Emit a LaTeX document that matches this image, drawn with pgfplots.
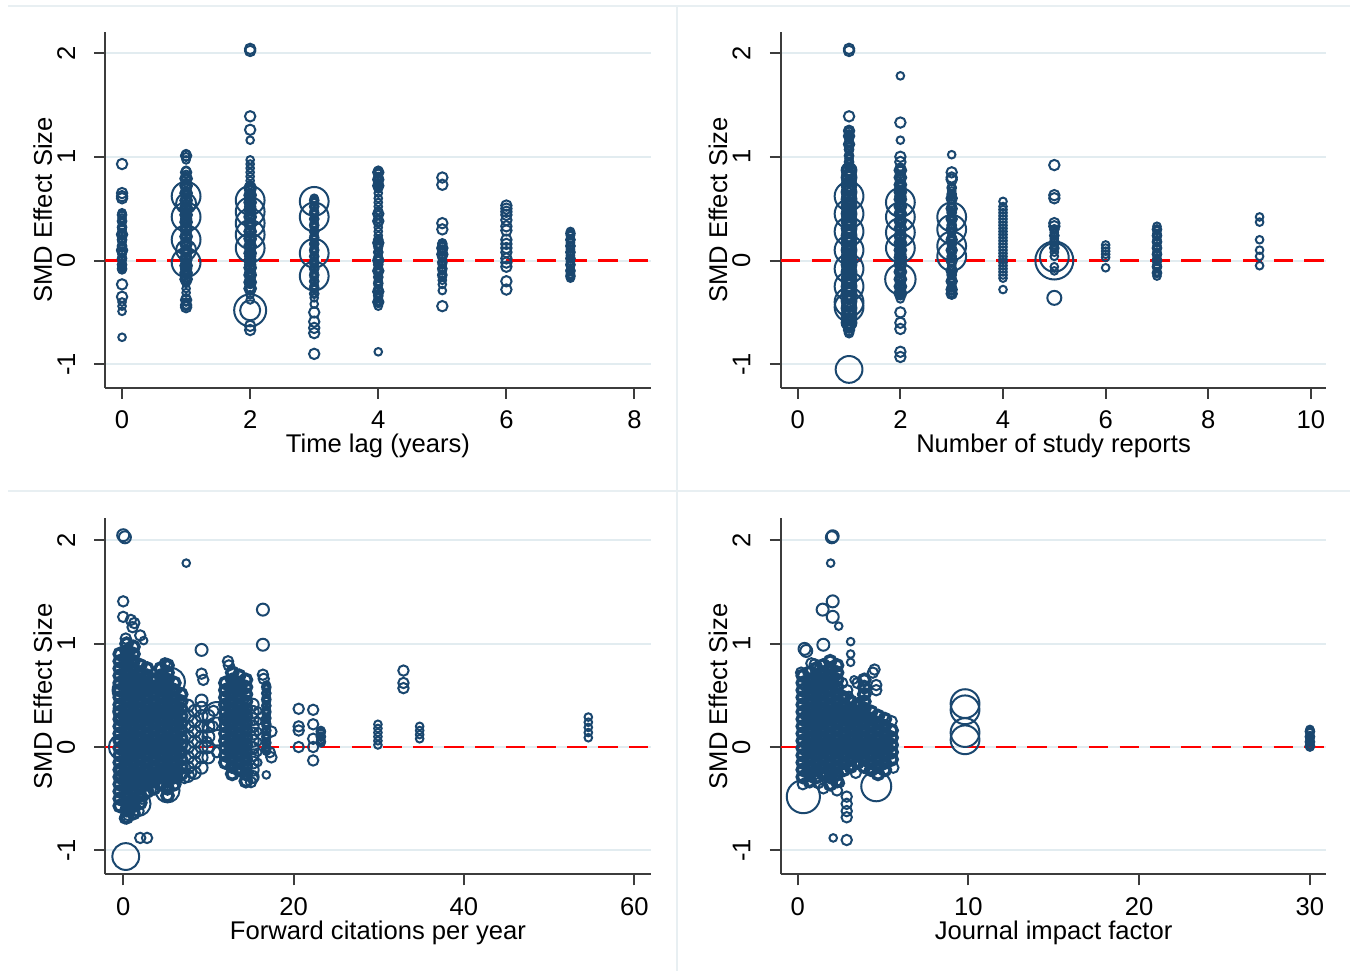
\documentclass[border=0pt]{standalone}
\usepackage{fontspec}
\setmainfont{Liberation Sans}
\usepackage{pgfplots}
\pgfplotsset{compat=1.18}
\definecolor{smdnavy}{RGB}{26,71,111}
\definecolor{gridc}{RGB}{226,236,240}
\definecolor{framec}{RGB}{232,239,242}
\definecolor{axc}{RGB}{60,60,60}
\newcommand\tlfont{\fontsize{12.8bp}{15bp}\selectfont}
\pgfplotsset{
  smd/.style={
    scale only axis,
    ytick={-1,0,1,2}, yticklabels={-1,0,1,2},
    axis x line*=bottom, axis y line*=left,
    axis line style={axc, line width=1bp},
    tick style={axc, line width=1bp},
    tick align=outside, major tick length=5.5bp,
    ymajorgrids, major grid style={gridc, line width=1bp},
    tick label style={font=\tlfont},
    yticklabel style={rotate=90, anchor=south, inner sep=0pt},
    xticklabel style={anchor=north, inner sep=0pt},
    yticklabel shift=9.5bp, xticklabel shift=6bp,
    label style={font=\tlfont},
    ylabel={SMD Effect Size},
    ylabel style={at={(axis description cs:-0.0972,0.5)}, anchor=south, inner sep=0pt},
    xlabel style={at={(axis description cs:0.5,0)}, anchor=base, inner sep=0pt, yshift=-32.6bp},
  },
  bub/.style={only marks, mark=o, mark size=#1, color=smdnavy, line width=1bp, mark options={solid}},
  tk/.style 2 args={only marks, mark=o, mark size=#1, color=smdnavy, line width=#2, mark options={solid}},
  zl/.style={red, line width=1.35bp, dash pattern=on 9.7bp off 5.7bp},
}
\begin{document}
\begin{tikzpicture}
\useasboundingbox (0,0) rectangle (679bp,485.5bp);
\fill[white] (0,0) rectangle (679bp,485.5bp);
\draw[framec, line width=1bp] (4bp,482.5bp) -- (675bp,482.5bp);
\draw[framec, line width=1bp] (4bp,240.15bp) -- (675bp,240.15bp);
\draw[framec, line width=1bp] (338.65bp,0) -- (338.65bp,483bp);

% ---------------- Panel 1: Time lag
\begin{axis}[smd, at={(52.7bp,291.65bp)}, anchor=south west,
  width=272.55bp, height=177.7bp, xmin=-0.26, xmax=8.25, ymin=-1.226, ymax=2.2,
  xtick={0,2,4,6,8}, xticklabels={0,2,4,6,8}, xlabel={Time lag (years)}]
\addplot[zl] coordinates {(-0.26,0) (8.25,0)};
\addplot[bub=1.9bp] coordinates {
(0,0.46)(0,0.41)(0,0.37)(0,0.33)(0,0.3)(0,0.27)(0,0.24)(0,0.21)(0,0.18)(0,0.15)(0,0.12)(0,0.09)(0,0.06)(0,0.03)(0,0)(0,-0.03)(0,-0.06)(0,-0.09)(0,-0.4)(0,-0.44)(0,-0.49)(0,-0.74)
(1,1.03)(1,1)(1,0.97)(1,0.87)(1,0.83)(1,0.79)(1,0.75)(1,0.71)(1,0.67)(1,0.63)(1,0.59)(1,0.55)(1,0.51)(1,0.47)(1,0.43)(1,0.39)(1,0.35)(1,0.31)(1,0.27)(1,0.23)(1,0.19)(1,0.15)(1,0.11)(1,0.07)(1,0.03)(1,-0.01)(1,-0.05)(1,-0.09)(1,-0.13)(1,-0.17)(1,-0.22)(1,-0.27)(1,-0.31)(1,-0.36)(1,-0.4)(1,-0.43)
(2,1.16)(2,0.97)(2,0.93)(2,0.89)(2,0.85)(2,0.81)(2,0.77)(2,0.73)(2,0.69)(2,0.65)(2,0.61)(2,0.57)(2,0.53)(2,0.49)(2,0.45)(2,0.41)(2,0.37)(2,0.33)(2,0.29)(2,0.25)(2,0.21)(2,0.17)(2,0.13)(2,0.09)(2,0.05)(2,0.01)(2,-0.03)(2,-0.07)(2,-0.11)(2,-0.15)(2,-0.19)(2,-0.23)(2,-0.27)(2,-0.33)(2,-0.38)
(3,0.6)(3,0.56)(3,0.52)(3,0.48)(3,0.44)(3,0.4)(3,0.36)(3,0.32)(3,0.28)(3,0.24)(3,0.2)(3,0.16)(3,0.12)(3,0.08)(3,0.04)(3,0)(3,-0.04)(3,-0.08)(3,-0.12)(3,-0.16)(3,-0.2)(3,-0.24)(3,-0.28)(3,-0.32)(3,-0.36)(3,-0.42)
(4,0.87)(4,0.84)(4,0.81)(4,0.78)(4,0.75)(4,0.72)(4,0.69)(4,0.65)(4,0.6)(4,0.56)(4,0.52)(4,0.48)(4,0.44)(4,0.4)(4,0.36)(4,0.32)(4,0.28)(4,0.24)(4,0.2)(4,0.16)(4,0.12)(4,0.08)(4,0.04)(4,0)(4,-0.04)(4,-0.08)(4,-0.12)(4,-0.16)(4,-0.2)(4,-0.24)(4,-0.28)(4,-0.32)(4,-0.36)(4,-0.4)(4,-0.44)(4,-0.88)
(5,0.17)(5,0.14)(5,0.11)(5,0.08)(5,0.05)(5,0.02)(5,-0.01)(5,-0.04)(5,-0.07)(5,-0.1)(5,-0.13)(5,-0.16)(5,-0.19)(5,-0.23)(5,-0.29)
(7,0.28)(7,0.24)(7,0.2)(7,0.17)(7,0.14)(7,0.11)(7,0.08)(7,0.05)(7,0.02)(7,-0.01)(7,-0.05)(7,-0.09)(7,-0.13)(7,-0.17)
};
\addplot[tk={1.9bp}{1.5bp}] coordinates {
(0,0.44)(0,0.38)(0,0.32)(0,0.26)(0,0.2)(0,0.14)(0,0.08)(0,0.02)(0,-0.04)(0,-0.08)
(3,0.58)(3,0.52)(3,0.46)(3,0.4)(3,0.34)(3,0.28)(3,0.22)(3,0.16)(3,0.1)(3,0.04)(3,-0.02)(3,-0.08)(3,-0.14)(3,-0.2)(3,-0.26)(3,-0.32)
(4,0.86)(4,0.8)(4,0.74)(4,0.2)(4,0.14)(4,0.08)(4,0.02)(4,-0.04)(4,-0.1)(4,-0.16)(4,-0.22)(4,-0.28)(4,-0.34)(4,-0.4)
(5,0.16)(5,0.1)(5,0.04)(5,-0.02)(5,-0.08)(5,-0.14)
(7,0.26)(7,0.2)(7,0.14)(7,0.08)(7,0.02)(7,-0.04)(7,-0.1)(7,-0.15)
};
\addplot[tk={2.6bp}{1.6bp}] coordinates {
(1,0.79)(1,0.72)(1,0.65)(1,0.58)(1,0.51)(1,0.44)(1,0.37)(1,0.3)(1,0.23)(1,0.16)(1,0.09)(1,0.02)(1,-0.05)(1,-0.12)(1,-0.18)
(2,0.7)(2,0.63)(2,0.56)(2,0.49)(2,0.42)(2,0.35)(2,0.28)(2,0.21)(2,0.14)(2,0.07)(2,0)(2,-0.07)(2,-0.14)(2,-0.21)(2,-0.27)
};
\addplot[bub=2.6bp] coordinates {
(0,0.93)(0,0.65)(0,0.62)(0,0.6)(0,0.25)(0,0.1)(0,-0.23)(0,-0.35)
(1,1.01)(1,0.85)(1,0.72)(1,0.64)(1,0.56)(1,0.48)(1,0.4)(1,0.32)(1,0.24)(1,0.16)(1,0.08)(1,0)(1,-0.08)(1,-0.38)(1,-0.43)(1,-0.45)
(2,2.04)(2,2.02)(2,1.39)(2,1.26)(2,0.68)(2,0.6)(2,0.52)(2,0.44)(2,0.36)(2,0.28)(2,0.2)(2,0.12)(2,0.04)(2,-0.04)(2,-0.12)(2,-0.2)(2,-0.67)(2,-0.63)
(3,-0.5)(3,-0.59)(3,-0.65)(3,-0.7)(3,-0.9)
(4,0.85)(4,0.78)(4,0.72)(4,0.45)(4,0.38)(4,0.17)(4,0)(4,-0.1)(4,-0.3)(4,-0.4)
(5,0.8)(5,0.73)(5,0.36)(5,0.3)(5,0.12)(5,0.06)(5,-0.44)
(6,0.53)(6,0.5)(6,0.47)(6,0.44)(6,0.39)(6,0.33)(6,0.29)(6,0.2)(6,0.16)(6,0.12)(6,0.08)(6,0.02)(6,-0.02)(6,-0.06)(6,-0.2)(6,-0.28)
};
\addplot[bub=5bp] coordinates {(1,0.55)(1,0.1)(2,-0.48)};
\addplot[bub=7.2bp] coordinates {(1,0.62)(1,0.42)(1,0.2)(1,-0.02)(2,0.58)(2,0.47)(2,0.36)(2,0.25)(2,0.12)(3,0.57)(3,0.42)(3,0.07)(3,-0.15)};
\addplot[bub=8bp] coordinates {(2,-0.48)};
\end{axis}

% ---------------- Panel 2: Number of study reports
\begin{axis}[smd, at={(390.4bp,291.65bp)}, anchor=south west,
  width=272.75bp, height=177.7bp, xmin=-0.33, xmax=10.3, ymin=-1.226, ymax=2.2,
  xtick={0,2,4,6,8,10}, xticklabels={0,2,4,6,8,10}, xlabel={Number of study reports}]
\addplot[zl] coordinates {(-0.33,0) (10.3,0)};
\addplot[bub=1.9bp] coordinates {
(1,1.26)(1,1.22)(1,1.18)(1,1.14)(1,1.1)(1,1.06)(1,1.02)(1,0.98)(1,0.94)(1,0.9)(1,0.86)(1,0.82)(1,0.78)(1,0.74)(1,0.7)(1,0.66)(1,0.62)(1,0.58)(1,0.54)(1,0.5)(1,0.46)(1,0.42)(1,0.38)(1,0.34)(1,0.3)(1,0.26)(1,0.22)(1,0.18)(1,0.14)(1,0.1)(1,0.06)(1,0.02)(1,-0.02)(1,-0.06)(1,-0.1)(1,-0.14)(1,-0.18)(1,-0.22)(1,-0.26)(1,-0.3)(1,-0.34)(1,-0.38)(1,-0.42)(1,-0.46)(1,-0.5)(1,-0.54)(1,-0.58)(1,-0.62)(1,-0.66)(1,-0.7)
(2,1.78)(2,1.16)(2,0.9)(2,0.87)(2,0.83)(2,0.79)(2,0.75)(2,0.71)(2,0.67)(2,0.63)(2,0.59)(2,0.55)(2,0.51)(2,0.47)(2,0.43)(2,0.39)(2,0.35)(2,0.31)(2,0.27)(2,0.23)(2,0.19)(2,0.15)(2,0.11)(2,0.07)(2,0.03)(2,-0.01)(2,-0.05)(2,-0.09)(2,-0.13)(2,-0.17)(2,-0.21)(2,-0.25)(2,-0.29)(2,-0.33)(2,-0.37)
(3,1.02)(3,0.71)(3,0.67)(3,0.63)(3,0.59)(3,0.55)(3,0.51)(3,0.47)(3,0.43)(3,0.39)(3,0.35)(3,0.31)(3,0.27)(3,0.23)(3,0.19)(3,0.15)(3,0.11)(3,0.07)(3,0.03)(3,-0.01)(3,-0.05)(3,-0.09)(3,-0.13)(3,-0.17)(3,-0.21)(3,-0.25)(3,-0.29)(3,-0.33)
(4,0.57)(4,0.52)(4,0.49)(4,0.46)(4,0.43)(4,0.4)(4,0.37)(4,0.34)(4,0.31)(4,0.28)(4,0.25)(4,0.22)(4,0.19)(4,0.16)(4,0.13)(4,0.1)(4,0.07)(4,0.04)(4,0.01)(4,-0.02)(4,-0.05)(4,-0.08)(4,-0.11)(4,-0.14)(4,-0.17)(4,-0.28)
(5,0.3)(5,0.27)(5,0.24)(5,0.21)(5,0.18)(5,0.15)(5,0.12)(5,0.08)(5,0.04)(5,-0.06)(5,-0.1)
(6,0.15)(6,0.12)(6,0.09)(6,0.06)(6,0.03)(6,-0.07)
(7,0.33)(7,0.29)(7,0.26)(7,0.23)(7,0.2)(7,0.17)(7,0.14)(7,0.11)(7,0.08)(7,0.05)(7,0.02)(7,-0.01)(7,-0.04)(7,-0.07)(7,-0.11)(7,-0.15)
(9,0.42)(9,0.37)(9,0.2)(9,0.1)(9,0.04)(9,-0.05)
};
\addplot[tk={1.9bp}{1.5bp}] coordinates {
(1,1.25)(1,1.19)(1,1.13)(1,1.07)(1,1.01)(1,0.95)(1,0.9)(1,-0.65)(1,-0.7)
(3,0.7)(3,0.64)(3,0.58)(3,0.52)(3,0.46)(3,0.4)(3,0.34)(3,0.28)(3,0.22)(3,0.16)(3,0.1)(3,0.04)(3,-0.02)(3,-0.08)(3,-0.14)(3,-0.2)(3,-0.26)(3,-0.32)
(5,0.3)(5,0.24)(5,0.18)(5,0.12)
(7,0.3)(7,0.24)(7,0.18)(7,0.12)(7,0.06)(7,0)(7,-0.06)(7,-0.12)
};
\addplot[tk={2.6bp}{1.6bp}] coordinates {
(2,0.87)(2,0.8)(2,0.73)(2,0.66)(2,0.59)(2,0.52)(2,0.45)(2,0.38)(2,0.31)(2,0.24)(2,0.17)(2,0.1)(2,0.03)(2,-0.04)(2,-0.11)(2,-0.18)(2,-0.25)(2,-0.32)
};
\addplot[tk={3.4bp}{1.6bp}] coordinates {
(1,0.87)(1,0.8)(1,0.73)(1,0.66)(1,0.59)(1,0.52)(1,0.45)(1,0.38)(1,0.31)(1,0.24)(1,0.17)(1,0.1)(1,0.03)(1,-0.04)(1,-0.11)(1,-0.18)(1,-0.25)(1,-0.32)(1,-0.39)(1,-0.46)(1,-0.53)(1,-0.6)
};
\addplot[bub=2.6bp] coordinates {
(1,2.04)(1,2.02)(1,1.39)(1,1.25)(1,1.2)(1,1.12)(1,0.84)(1,0.76)(1,0.68)(1,0.6)(1,0.52)(1,0.44)(1,0.36)(1,0.28)(1,0.2)(1,0.12)(1,0.04)(1,-0.04)(1,-0.12)(1,-0.2)(1,-0.28)(1,-0.36)(1,-0.44)(1,-0.52)(1,-0.6)(1,-0.67)
(2,1.33)(2,1)(2,0.95)(2,0.7)(2,0.62)(2,0.54)(2,0.46)(2,0.38)(2,0.3)(2,0.22)(2,0.14)(2,0.06)(2,-0.02)(2,-0.1)(2,-0.18)(2,-0.26)(2,-0.3)(2,-0.5)(2,-0.6)(2,-0.66)(2,-0.88)(2,-0.93)
(3,0.85)(3,0.8)(3,0.78)(3,0.6)(3,0.5)(3,0.4)(3,0.3)(3,0.2)(3,0.1)(3,0)(3,-0.1)(3,-0.2)(3,-0.28)(3,-0.32)
(5,0.92)(5,0.63)(5,0.6)(5,0.36)(5,0.33)
};
\addplot[bub=3.5bp] coordinates {(1,0.8)(1,0.6)(1,0.4)(1,0.2)(1,0)(1,-0.2)(1,-0.4)(1,-0.6)(5,-0.36)};
\addplot[bub=7.2bp] coordinates {(1,0.62)(1,0.45)(1,0.28)(1,0.1)(1,-0.08)(1,-0.25)(1,-0.4)(1,-0.45)(2,0.56)(2,0.42)(2,0.27)(2,0.12)(3,0.42)(3,0.3)(3,0.14)(3,0.04)(5,0.03)};
\addplot[bub=6.7bp] coordinates {(1,-1.05)};
\addplot[bub=7.6bp] coordinates {(2,-0.18)};
\addplot[bub=9.5bp] coordinates {(5,0)};
\end{axis}

% ---------------- Panel 3: Forward citations per year
\begin{axis}[smd, at={(52.7bp,48.35bp)}, anchor=south west,
  width=272.55bp, height=178bp, xmin=-2.09, xmax=61.9, ymin=-1.232, ymax=2.214,
  xtick={0,20,40,60}, xticklabels={0,20,40,60}, xlabel={Forward citations per year}]
\addplot[zl] coordinates {(-2.09,0) (61.9,0)};
\addplot[bub=3bp] coordinates {(0,2.05)(0.2,2.03)(9.2,0.94)(16.4,1.33)(16.4,0.99)};
\addplot[tk={2.8bp}{1.8bp}] coordinates {
(-0.4,0.9)(-0.4,0.83)(-0.4,0.76)(-0.4,0.69)(-0.4,0.62)(-0.4,0.55)(-0.4,0.48)(-0.4,0.41)(-0.4,0.34)(-0.4,0.27)(-0.4,0.2)(-0.4,0.13)(-0.4,0.06)(-0.4,-0.01)(-0.4,-0.08)(-0.4,-0.15)(-0.4,-0.22)(-0.4,-0.29)(-0.4,-0.36)(-0.4,-0.43)(-0.4,-0.5)(-0.4,-0.57)
(0.4,1)(0.4,0.93)(0.4,0.86)(0.4,0.79)(0.4,0.72)(0.4,0.65)(0.4,0.58)(0.4,0.51)(0.4,0.44)(0.4,0.37)(0.4,0.3)(0.4,0.23)(0.4,0.16)(0.4,0.09)(0.4,0.02)(0.4,-0.05)(0.4,-0.12)(0.4,-0.19)(0.4,-0.26)(0.4,-0.33)(0.4,-0.4)(0.4,-0.47)(0.4,-0.54)(0.4,-0.61)(0.4,-0.68)
(1.2,0.97)(1.2,0.9)(1.2,0.83)(1.2,0.76)(1.2,0.69)(1.2,0.62)(1.2,0.55)(1.2,0.48)(1.2,0.41)(1.2,0.34)(1.2,0.27)(1.2,0.2)(1.2,0.13)(1.2,0.06)(1.2,-0.01)(1.2,-0.08)(1.2,-0.15)(1.2,-0.22)(1.2,-0.29)(1.2,-0.36)(1.2,-0.43)(1.2,-0.5)(1.2,-0.57)(1.2,-0.64)
(2,0.79)(2,0.72)(2,0.65)(2,0.58)(2,0.51)(2,0.44)(2,0.37)(2,0.3)(2,0.23)(2,0.16)(2,0.09)(2,0.02)(2,-0.05)(2,-0.12)(2,-0.19)(2,-0.26)(2,-0.33)(2,-0.4)(2,-0.47)(2,-0.54)
(2.8,0.76)(2.8,0.69)(2.8,0.62)(2.8,0.55)(2.8,0.48)(2.8,0.41)(2.8,0.34)(2.8,0.27)(2.8,0.2)(2.8,0.13)(2.8,0.06)(2.8,-0.01)(2.8,-0.08)(2.8,-0.15)(2.8,-0.22)(2.8,-0.29)(2.8,-0.36)(2.8,-0.43)
(3.6,0.65)(3.6,0.58)(3.6,0.51)(3.6,0.44)(3.6,0.37)(3.6,0.3)(3.6,0.23)(3.6,0.16)(3.6,0.09)(3.6,0.02)(3.6,-0.05)(3.6,-0.12)(3.6,-0.19)(3.6,-0.26)(3.6,-0.33)(3.6,-0.4)
(4.4,0.76)(4.4,0.69)(4.4,0.62)(4.4,0.55)(4.4,0.48)(4.4,0.41)(4.4,0.34)(4.4,0.27)(4.4,0.2)(4.4,0.13)(4.4,0.06)(4.4,-0.01)(4.4,-0.08)(4.4,-0.15)(4.4,-0.22)(4.4,-0.29)(4.4,-0.36)
(5.2,0.79)(5.2,0.72)(5.2,0.65)(5.2,0.58)(5.2,0.51)(5.2,0.44)(5.2,0.37)(5.2,0.3)(5.2,0.23)(5.2,0.16)(5.2,0.09)(5.2,0.02)(5.2,-0.05)(5.2,-0.12)(5.2,-0.19)(5.2,-0.26)(5.2,-0.33)(5.2,-0.4)(5.2,-0.47)
(6,0.62)(6,0.55)(6,0.48)(6,0.41)(6,0.34)(6,0.27)(6,0.2)(6,0.13)(6,0.06)(6,-0.01)(6,-0.08)(6,-0.15)(6,-0.22)(6,-0.29)(6,-0.36)
(6.8,0.51)(6.8,0.44)(6.8,0.37)(6.8,0.3)(6.8,0.23)(6.8,0.16)(6.8,0.09)(6.8,0.02)(6.8,-0.05)(6.8,-0.12)(6.8,-0.19)(6.8,-0.26)
(12,0.62)(12,0.55)(12,0.48)(12,0.41)(12,0.34)(12,0.27)(12,0.2)(12,0.13)(12,0.06)(12,-0.01)(12,-0.08)(12,-0.15)
(12.8,0.72)(12.8,0.65)(12.8,0.58)(12.8,0.51)(12.8,0.44)(12.8,0.37)(12.8,0.3)(12.8,0.23)(12.8,0.16)(12.8,0.09)(12.8,0.02)(12.8,-0.05)(12.8,-0.12)(12.8,-0.19)(12.8,-0.26)
(13.6,0.69)(13.6,0.62)(13.6,0.55)(13.6,0.48)(13.6,0.41)(13.6,0.34)(13.6,0.27)(13.6,0.2)(13.6,0.13)(13.6,0.06)(13.6,-0.01)(13.6,-0.08)(13.6,-0.15)(13.6,-0.22)
(14.4,0.65)(14.4,0.58)(14.4,0.51)(14.4,0.44)(14.4,0.37)(14.4,0.3)(14.4,0.23)(14.4,0.16)(14.4,0.09)(14.4,0.02)(14.4,-0.05)(14.4,-0.12)(14.4,-0.19)(14.4,-0.26)(14.4,-0.33)
};
\addplot[bub=3bp] coordinates {
(7.6,0.4)(7.6,0.3)(7.6,0.2)(7.6,0.1)(7.6,0)(7.6,-0.1)(7.6,-0.2)(7.6,-0.28)
(8.4,0.35)(8.4,0.25)(8.4,0.15)(8.4,0.05)(8.4,-0.05)(8.4,-0.15)(8.4,-0.25)
(9.2,0.45)(9.2,0.38)(9.2,0.3)(9.2,0.2)(9.2,0.1)(9.2,0)(9.2,-0.1)(9.2,-0.2)
(10,0.3)(10,0.2)(10,0.1)(10,0)(10,-0.1)
(15.2,0.41)(15.2,0.34)(15.2,0.27)(15.2,0.2)(15.2,0.13)(15.2,0.06)(15.2,-0.01)(15.2,-0.08)(15.2,-0.15)(15.2,-0.22)(15.2,-0.29)
};
\addplot[bub=1.9bp] coordinates {
(7.4,1.78)(2.4,1.03)(15.8,0.35)(15.8,0.25)(15.8,0.15)(15.8,0.05)(15.8,-0.05)(15.8,-0.15)
(16.8,0.6)(16.8,0.56)(16.8,0.52)(16.8,0.48)(16.8,0.44)(16.8,0.4)(16.8,0.36)(16.8,0.32)(16.8,0.28)(16.8,0.24)(16.8,0.2)(16.8,0.16)(16.8,0.12)(16.8,0.08)(16.8,0.04)(16.8,0)(16.8,-0.04)(16.8,-0.27)
(23.2,0.16)(23.2,0.13)(23.2,0.1)(23.2,0.07)(23.2,0.04)
(29.9,0.22)(29.9,0.18)(29.9,0.14)(29.9,0.1)(29.9,0.06)(29.9,0.02)
(34.8,0.2)(34.8,0.16)(34.8,0.12)(34.8,0.08)
(54.6,0.29)(54.6,0.24)(54.6,0.19)(54.6,0.14)(54.6,0.09)
};
\addplot[tk={1.9bp}{1.5bp}] coordinates {
(16.8,0.58)(16.8,0.52)(16.8,0.46)(16.8,0.4)(16.8,0.34)(16.8,0.28)(16.8,0.22)(16.8,0.16)(16.8,0.1)(16.8,0.04)(16.8,-0.02)
(23.2,0.15)(23.2,0.1)(23.2,0.05)
};
\addplot[bub=2.6bp] coordinates {
(0,1.41)(0,1.26)(0.9,1.23)(1.3,1.2)(1.1,1.16)(2,1.08)(0.3,1.05)(9.2,0.71)(9.4,0.65)(4.9,0.81)(5.2,0.78)(12.3,0.83)(12.4,0.79)(16.4,0.7)(16.5,0.66)(17.4,0.15)(17.4,-0.1)(17.2,-0.05)
(20.6,0.37)(20.6,0.2)(20.6,0.16)(20.6,0)(22.3,0.36)(22.3,0.22)(22.3,0.08)(22.3,0)(22.3,-0.13)(32.9,0.74)(32.9,0.62)(32.9,0.57)
(0.2,-0.69)(0.6,-0.66)(2,-0.88)(2.8,-0.88)(1.8,-0.62)(2.2,-0.5)(9.8,0.05)(10.6,0.35)(11,-0.05)(7.2,-0.3)(8,-0.25)(15.2,-0.3)(15,-0.34)(10.5,0.2)
};
\addplot[bub=6.7bp] coordinates {(0.3,-1.06)};
\addplot[bub=6.3bp] coordinates {(-0.2,0)};
\addplot[bub=7bp] coordinates {(0.4,0.55)(0.5,0.35)(0.8,-0.25)(4,0.45)(5.6,0.63)(11,0.3)(11,0.15)};
\addplot[bub=6bp] coordinates {(1.8,-0.55)(5.2,-0.42)};
\end{axis}

% ---------------- Panel 4: Journal impact factor
\begin{axis}[smd, at={(390.4bp,48.35bp)}, anchor=south west,
  width=272.75bp, height=178bp, xmin=-0.99, xmax=30.96, ymin=-1.232, ymax=2.214,
  xtick={0,10,20,30}, xticklabels={0,10,20,30}, xlabel={Journal impact factor}]
\addplot[zl] coordinates {(-0.99,0) (30.96,0)};
\addplot[bub=3bp] coordinates {(2.05,2.04)(2,2.03)(0.4,0.95)(0.5,0.93)(1.5,0.99)(1.46,1.33)(2.05,1.41)(2.05,1.26)};
\addplot[tk={2.8bp}{1.8bp}] coordinates {
(0.3,0.69)(0.3,0.62)(0.3,0.55)(0.3,0.48)(0.3,0.41)(0.3,0.34)(0.3,0.27)(0.3,0.2)(0.3,0.13)(0.3,0.06)(0.3,-0.01)(0.3,-0.08)(0.3,-0.15)(0.3,-0.22)(0.3,-0.29)
(0.7,0.72)(0.7,0.65)(0.7,0.58)(0.7,0.51)(0.7,0.44)(0.7,0.37)(0.7,0.3)(0.7,0.23)(0.7,0.16)(0.7,0.09)(0.7,0.02)(0.7,-0.05)(0.7,-0.12)(0.7,-0.19)(0.7,-0.26)(0.7,-0.33)
(1.1,0.76)(1.1,0.69)(1.1,0.62)(1.1,0.55)(1.1,0.48)(1.1,0.41)(1.1,0.34)(1.1,0.27)(1.1,0.2)(1.1,0.13)(1.1,0.06)(1.1,-0.01)(1.1,-0.08)(1.1,-0.15)(1.1,-0.22)(1.1,-0.29)
(1.5,0.79)(1.5,0.72)(1.5,0.65)(1.5,0.58)(1.5,0.51)(1.5,0.44)(1.5,0.37)(1.5,0.3)(1.5,0.23)(1.5,0.16)(1.5,0.09)(1.5,0.02)(1.5,-0.05)(1.5,-0.12)(1.5,-0.19)(1.5,-0.26)
(1.9,0.83)(1.9,0.76)(1.9,0.69)(1.9,0.62)(1.9,0.55)(1.9,0.48)(1.9,0.41)(1.9,0.34)(1.9,0.27)(1.9,0.2)(1.9,0.13)(1.9,0.06)(1.9,-0.01)(1.9,-0.08)(1.9,-0.15)(1.9,-0.22)(1.9,-0.29)(1.9,-0.36)
(2.3,0.79)(2.3,0.72)(2.3,0.65)(2.3,0.58)(2.3,0.51)(2.3,0.44)(2.3,0.37)(2.3,0.3)(2.3,0.23)(2.3,0.16)(2.3,0.09)(2.3,0.02)(2.3,-0.05)(2.3,-0.12)(2.3,-0.19)(2.3,-0.26)(2.3,-0.33)
(2.7,0.48)(2.7,0.41)(2.7,0.34)(2.7,0.27)(2.7,0.2)(2.7,0.13)(2.7,0.06)(2.7,-0.01)(2.7,-0.08)(2.7,-0.15)(2.7,-0.22)
(3.1,0.44)(3.1,0.37)(3.1,0.3)(3.1,0.23)(3.1,0.16)(3.1,0.09)(3.1,0.02)(3.1,-0.05)(3.1,-0.12)(3.1,-0.19)
(3.5,0.41)(3.5,0.34)(3.5,0.27)(3.5,0.2)(3.5,0.13)(3.5,0.06)(3.5,-0.01)(3.5,-0.08)(3.5,-0.15)
(3.9,0.65)(3.9,0.58)(3.9,0.51)(3.9,0.44)(3.9,0.37)(3.9,0.3)(3.9,0.23)(3.9,0.16)(3.9,0.09)(3.9,0.02)(3.9,-0.05)(3.9,-0.12)(3.9,-0.19)
(4.3,0.34)(4.3,0.27)(4.3,0.2)(4.3,0.13)(4.3,0.06)(4.3,-0.01)(4.3,-0.08)(4.3,-0.15)(4.3,-0.22)
(4.7,0.3)(4.7,0.23)(4.7,0.16)(4.7,0.09)(4.7,0.02)(4.7,-0.05)(4.7,-0.12)(4.7,-0.19)(4.7,-0.26)
(5.1,0.27)(5.1,0.2)(5.1,0.13)(5.1,0.06)(5.1,-0.01)(5.1,-0.08)(5.1,-0.15)(5.1,-0.22)
(5.5,0.16)(5.5,0.09)(5.5,0.02)(5.5,-0.05)(5.5,-0.12)
};
\addplot[bub=1.9bp] coordinates {
(1.93,1.78)(2.4,1.17)(3.1,1.02)(3.1,0.9)(3.1,0.82)(3,0.5)(2.08,-0.88)(2.5,-0.35)(3.3,0.65)
(30,0.17)(30,0.14)(30,0.11)(30,0.08)(30,0.05)(30,0.02)(30,0)
};
\addplot[tk={1.9bp}{1.5bp}] coordinates {(30,0.15)(30,0.1)(30,0.05)(30,0.01)};
\addplot[bub=2.6bp] coordinates {
(0.8,0.81)(2.6,0.62)(2.9,0.55)(3.5,0.62)(4.5,0.75)(4.4,0.72)(4.6,0.6)(4.6,0.55)(2.87,-0.48)(2.87,-0.55)(2.87,-0.62)(2.87,-0.68)(2.87,-0.9)(1.2,-0.35)(1.5,-0.4)(0.2,0.72)(1,0.8)(5.5,0.25)(5.6,-0.2)(3.4,-0.25)(2.3,-0.42)(0.3,-0.36)
};
\addplot[bub=8.3bp] coordinates {(0.33,-0.48)};
\addplot[bub=7.5bp] coordinates {(4.6,-0.38)};
\addplot[bub=7.2bp] coordinates {(9.8,0.42)(9.8,0.36)(9.8,0.14)(9.8,0.07)};
\end{axis}
\end{tikzpicture}
\end{document}
